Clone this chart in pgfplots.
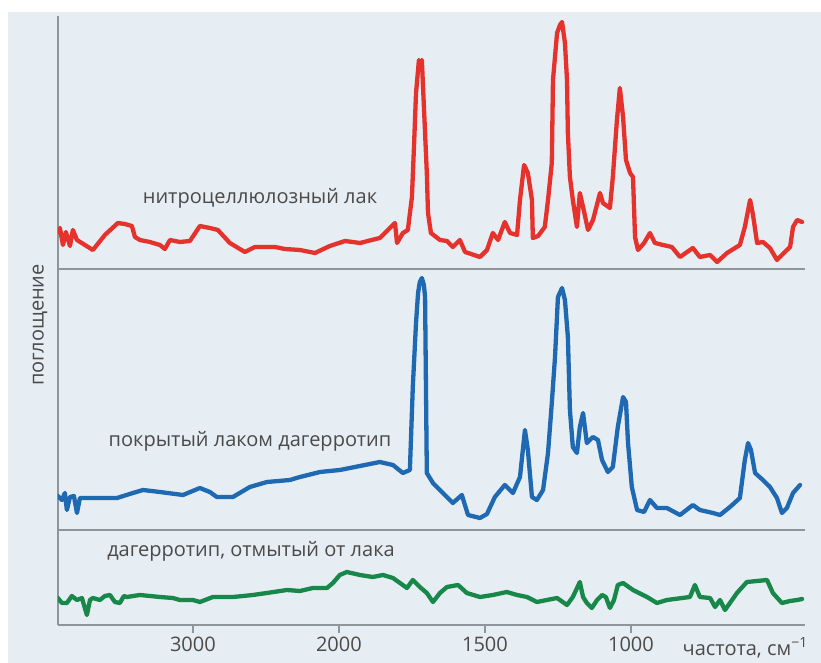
\documentclass[border=0pt]{standalone}
\usepackage{pgfplots}
\pgfplotsset{compat=1.18}
\usepackage{fontspec}
\setmainfont{Open Sans}

\definecolor{panelbg}{HTML}{E6EEF3}
\definecolor{axisgray}{HTML}{8E959B}
\definecolor{textgray}{HTML}{4A4A4A}
\definecolor{lacred}{HTML}{E5322D}
\definecolor{lacblue}{HTML}{1F69B3}
\definecolor{lacgreen}{HTML}{18884A}

% IR spectra: wavenumber (cm^-1), absorbance (arbitrary units)
\pgfplotstableread{
nu h
3925 37
3911 41
3890 24
3870 37
3842 23
3822 39
3794 29
3685 19
3603 34
3514 46
3466 45
3418 43
3397 32
3363 29
3294 27
3226 24
3192 20
3157 29
3089 27
3021 28
2952 43
2884 41
2829 39
2747 26
2644 17
2575 22
2438 22
2370 20
2267 19
2164 16
2062 23
1979 28
1928 26
1860 31
1808 46
1801 26
1781 36
1764 39
1750 72
1743 122
1736 176
1726 209
1723 200
1716 209
1705 136
1699 96
1695 56
1685 36
1654 29
1630 28
1610 22
1586 29
1568 17
1517 12
1493 19
1473 36
1455 29
1432 47
1414 36
1390 34
1380 69
1366 104
1353 96
1339 69
1336 31
1318 33
1295 42
1284 69
1271 106
1267 189
1253 236
1243 244
1236 247
1226 226
1219 189
1216 136
1209 92
1199 69
1185 42
1175 76
1164 62
1147 39
1130 49
1106 76
1096 66
1072 61
1062 92
1048 149
1038 181
1027 152
1017 109
1003 96
993 92
986 32
976 19
955 26
935 36
918 26
890 24
860 22
832 12
788 21
764 12
729 14
705 7
671 16
627 24
610 42
592 69
582 54
568 26
548 27
524 21
500 9
473 17
455 22
445 42
431 49
414 47
}\nitrolac

\pgfplotstableread{
nu h
3925 34
3897 30
3877 37
3863 20
3842 33
3815 34
3794 17
3774 32
3637 32
3520 32
3411 37
3342 40
3226 38
3068 35
2952 42
2884 38
2836 33
2726 33
2610 43
2493 48
2336 50
2267 53
2130 58
1997 60
1928 64
1860 68
1815 65
1781 57
1757 60
1747 143
1736 207
1729 237
1723 248
1716 252
1709 245
1705 233
1699 57
1678 47
1644 37
1610 27
1579 35
1558 15
1517 12
1493 16
1466 33
1432 45
1404 37
1380 53
1363 100
1353 80
1339 33
1322 30
1301 40
1284 77
1271 127
1260 173
1250 233
1236 242
1226 230
1216 193
1209 120
1199 83
1185 77
1175 103
1164 117
1151 87
1130 93
1113 90
1099 70
1079 58
1062 63
1045 103
1027 133
1017 128
1010 87
997 43
979 20
955 18
935 30
911 22
877 22
832 15
788 25
764 20
719 17
695 15
661 23
627 32
610 70
599 87
589 80
575 57
548 50
524 43
500 32
483 17
466 22
445 37
421 45
}\coated

\pgfplotstableread{
nu h
3925 27
3897 22
3863 22
3829 29
3794 25
3760 27
3726 10
3705 25
3685 27
3637 25
3603 29
3568 30
3534 23
3500 22
3473 29
3452 28
3363 30
3226 28
3137 27
3089 25
3000 25
2952 23
2863 28
2726 28
2589 30
2493 32
2356 35
2267 34
2178 37
2082 37
2041 42
1997 50
1973 53
1928 50
1884 48
1849 50
1815 47
1767 37
1747 45
1723 38
1699 32
1678 23
1654 32
1630 38
1592 40
1562 32
1517 28
1473 30
1425 33
1390 30
1356 28
1322 23
1288 25
1253 27
1219 20
1199 28
1175 43
1164 28
1151 22
1134 17
1116 25
1099 30
1086 28
1072 17
1058 25
1045 40
1027 42
993 35
945 28
911 22
877 25
798 28
781 40
764 28
729 27
712 18
695 25
678 15
661 22
637 32
603 43
534 45
514 32
483 22
455 24
431 25
414 26
}\cleaned

\pgfplotsset{
  spectrum/.style={
    scale only axis, width=747pt,
    xmin=404, xmax=2962, x dir=reverse,
    % scale above 2000 cm^-1 is compressed by a factor of two
    x filter/.expression={x>2000 ? 2000+0.5*(x-2000) : x},
    ymin=0,
    axis x line*=bottom, axis y line*=left,
    axis line style={-, draw=axisgray, line width=1.3pt},
    ytick=\empty,
    every axis plot/.append style={line width=4.3pt, line join=round, line cap=round},
  }
}

\begin{document}
\begin{tikzpicture}[x=1pt, y=1pt]
\useasboundingbox (0,0) rectangle (821,663);
\fill[white] (0,0) rectangle (821,663);
\fill[panelbg] (8,0) rectangle (821,651);

% washed daguerreotype
\begin{axis}[spectrum, at={(58pt,38pt)}, anchor=south west, height=95pt, ymax=95,
  xtick={1000,1500,2000,2500}, xticklabels={1000,1500,2000,3000},
  tick align=outside, major tick length=8pt,
  tick style={draw=axisgray, line width=1.2pt},
  xticklabel style={font=\fontsize{20}{24}\selectfont, text=textgray}]
\addplot[lacgreen] table[x=nu, y=h] {\cleaned};
\end{axis}

% varnished daguerreotype
\begin{axis}[spectrum, at={(58pt,133pt)}, anchor=south west, height=261pt, ymax=261, xtick=\empty]
\addplot[lacblue] table[x=nu, y=h] {\coated};
\end{axis}

% nitrocellulose varnish
\begin{axis}[spectrum, at={(58pt,394pt)}, anchor=south west, height=253pt, ymax=253, xtick=\empty]
\addplot[lacred] table[x=nu, y=h] {\nitrolac};
\end{axis}

\begin{scope}[every node/.style={text=textgray, font=\fontsize{20}{24}\selectfont, inner sep=0pt}]
\node at (260,465) {нитроцеллюлозный лак};
\node at (250,222) {покрытый лаком дагерротип};
\node at (251,112) {дагерротип, отмытый от лака};
\node[anchor=east] at (808,15) {частота, см\textsuperscript{−1}};
\node[rotate=90] at (40,338) {поглощение};
\end{scope}
\end{tikzpicture}
\end{document}
